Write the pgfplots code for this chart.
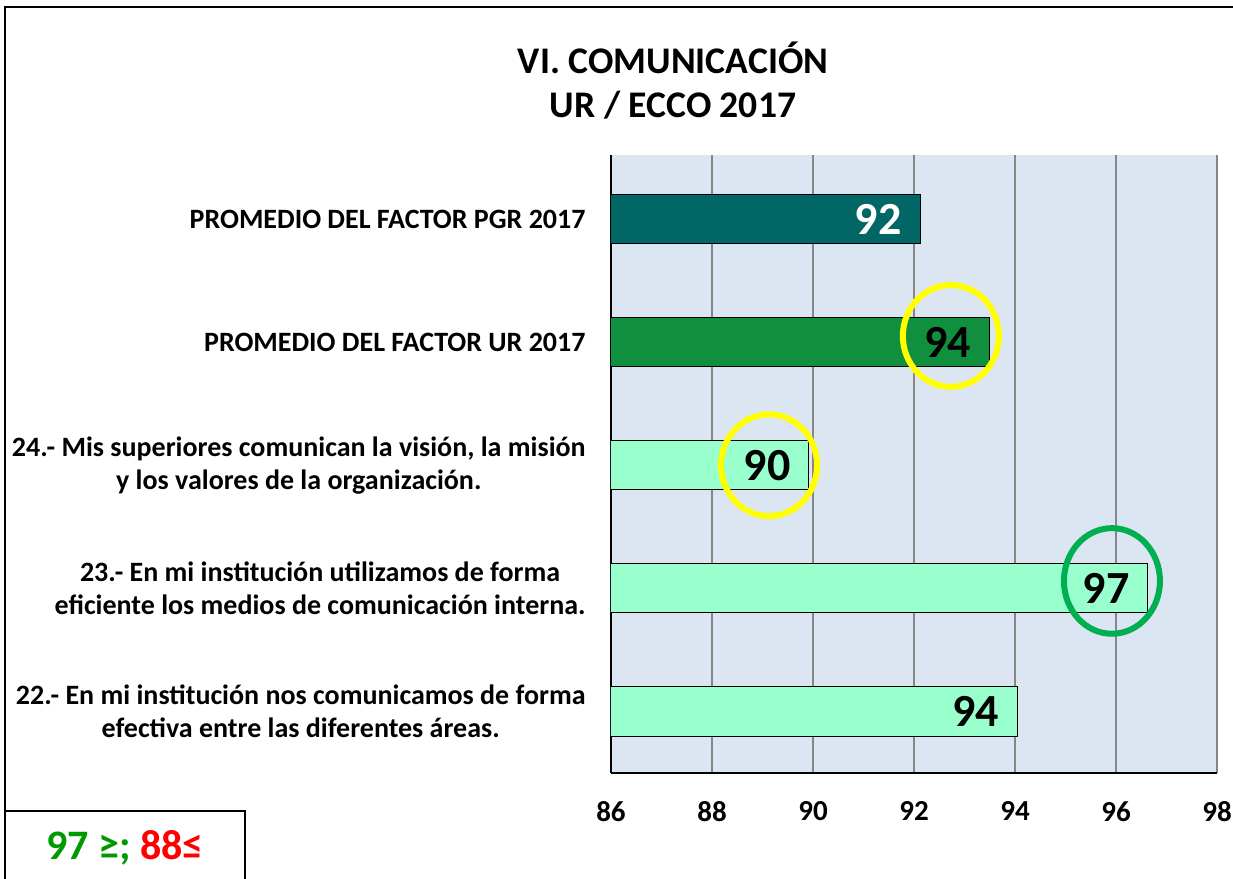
\documentclass[border=0pt]{standalone}
\usepackage{pgfplots}
\pgfplotsset{compat=1.18}
\usepackage{fontspec}
\setmainfont{Carlito}
\definecolor{bgblue}{HTML}{DCE6F2}
\definecolor{pgr}{HTML}{006666}
\definecolor{ur}{HTML}{10903F}
\definecolor{mint}{HTML}{99FFCC}
\definecolor{gridgray}{HTML}{868686}
\definecolor{cgreen}{HTML}{00B050}
\definecolor{lgreen}{HTML}{009900}
\definecolor{cyellow}{HTML}{FFFF00}
\begin{document}
\begin{tikzpicture}
\path[use as bounding box] (0,0) rectangle (616.5pt,439.5pt);
\draw[line width=1pt] (2.5pt,-5pt) -- (2.5pt,436pt) -- (620pt,436pt);
\node[align=center, font=\fontsize{18.8}{22}\selectfont\bfseries] at (336.5pt,399pt) {VI. COMUNICACIÓN\\UR / ECCO 2017};
\begin{axis}[
  at={(305.5pt,53pt)}, anchor=south west,
  width=303pt, height=309pt, scale only axis,
  xmin=86, xmax=98, ymin=-0.5, ymax=4.52,
  xtick={86,88,...,98},
  ytick={0,1,2,3,4},
  yticklabels={
    {22.- En mi institución nos comunicamos de forma\\efectiva entre las diferentes áreas.},
    {23.- En mi institución utilizamos de forma\\eficiente los medios de comunicación interna.},
    {24.- Mis superiores comunican la visión, la misión\\y los valores de la organización.},
    {PROMEDIO DEL FACTOR UR 2017},
    {PROMEDIO DEL FACTOR PGR 2017}},
  major tick length=0pt,
  xmajorgrids, major grid style={gridgray, line width=0.8pt},
  axis x line*=bottom, axis y line*=left,
  axis line style={-, line width=1pt, black},
  axis background/.style={fill=bgblue},
  bar width=0.4,
  /pgf/number format/assume math mode=true,
  xticklabel style={font=\fontsize{14.5}{17}\selectfont\bfseries, inner sep=0pt, anchor=north},
  xticklabel shift=14pt,
  yticklabel style={font=\fontsize{14}{16.5}\selectfont\bfseries, align=center, anchor=east, inner sep=0pt},
  yticklabel shift=12.5pt,
  every node near coord/.append style={anchor=east, xshift=-9pt, inner sep=0pt, font=\fontsize{23}{27}\selectfont\bfseries},
]
\addplot[xbar, bar shift=0pt, fill=mint, draw=black, line width=0.5pt,
  nodes near coords, point meta=explicit symbolic]
  coordinates {(94.05,0)[94] (96.63,1)[97] (89.92,2)[90]};
\addplot[xbar, bar shift=0pt, fill=ur, draw=black, line width=0.5pt,
  nodes near coords, point meta=explicit symbolic]
  coordinates {(93.5,3)[94]};
\addplot[xbar, bar shift=0pt, fill=pgr, draw=black, line width=0.5pt,
  nodes near coords, point meta=explicit symbolic,
  every node near coord/.append style={text=white}]
  coordinates {(92.12,4)[92]};
\addplot[only marks, mark=o, mark size=24pt,
  mark options={line width=3pt, draw=cyellow, yscale=1.06}]
  coordinates {(92.73,3.05) (89.13,2)};
\addplot[only marks, mark=o, mark size=24pt,
  mark options={line width=3pt, draw=cgreen, yscale=1.1}]
  coordinates {(95.92,1.06)};
\end{axis}
\draw[line width=0.6pt] (2.5pt,-5pt) rectangle (122.5pt,34pt);
\node[font=\fontsize{21}{24}\selectfont\bfseries] at (62.5pt,15.5pt) {\textcolor{lgreen}{97 ≥;} \textcolor{red}{88≤}};
\end{tikzpicture}
\end{document}
